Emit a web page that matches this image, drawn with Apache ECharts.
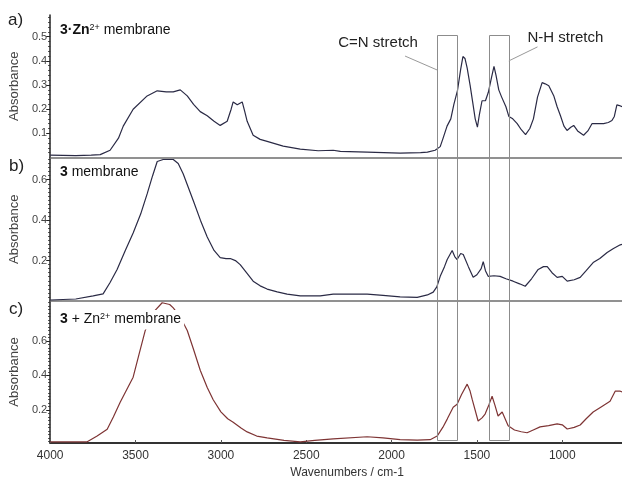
<!DOCTYPE html>
<html><head><meta charset="utf-8">
<script src="https://cdn.jsdelivr.net/npm/echarts@6/dist/echarts.min.js"></script>
<style>html,body{margin:0;padding:0;background:#fff}#c{width:622px;height:480px}</style>
</head><body><div id="c"></div>
<script>
// ---- Data ----
const wnA = [4000,3850,3760,3707,3649,3600,3572,3514,3432,3373,3320,3279,3238,3197,3160,3121,3080,3040,3004,2963,2940,2928,2904,2875,2860,2846,2811,2770,2729,2635,2535,2430,2342,2300,2143,1950,1830,1790,1745,1715,1698,1675,1653,1635,1614,1595,1582,1570,1557,1540,1525,1510,1497,1485,1470,1462,1450,1433,1415,1400,1388,1372,1355,1344,1330,1313,1290,1264,1240,1215,1190,1169,1145,1118,1100,1079,1050,1030,1011,990,972,950,933,910,875,850,826,790,758,730,709,695,680,665,650];
const absA = [0.01,0.008,0.01,0.012,0.03,0.08,0.13,0.20,0.255,0.276,0.272,0.272,0.28,0.255,0.22,0.19,0.173,0.15,0.133,0.15,0.2,0.23,0.218,0.23,0.19,0.15,0.092,0.075,0.067,0.047,0.035,0.028,0.03,0.025,0.022,0.018,0.02,0.022,0.03,0.045,0.08,0.13,0.16,0.22,0.277,0.366,0.418,0.41,0.37,0.3,0.23,0.16,0.126,0.18,0.235,0.239,0.235,0.27,0.33,0.377,0.34,0.28,0.25,0.256,0.21,0.17,0.16,0.14,0.115,0.095,0.12,0.16,0.25,0.31,0.305,0.297,0.256,0.21,0.174,0.13,0.112,0.125,0.133,0.11,0.092,0.11,0.14,0.14,0.14,0.145,0.153,0.17,0.218,0.215,0.21];

const wnB = [4000,3850,3748,3690,3650,3608,3560,3514,3470,3432,3400,3373,3338,3300,3279,3250,3221,3162,3120,3080,3040,3004,2970,2945,2915,2887,2850,2811,2770,2729,2670,2612,2535,2418,2342,2143,2050,1950,1850,1790,1756,1735,1715,1690,1674,1645,1630,1616,1595,1580,1550,1522,1500,1475,1463,1450,1434,1400,1364,1330,1288,1250,1217,1180,1141,1110,1088,1060,1030,1000,971,930,895,860,819,780,737,700,660,650];
const absB = [0.005,0.01,0.025,0.035,0.09,0.156,0.25,0.336,0.43,0.53,0.62,0.69,0.70,0.70,0.70,0.68,0.63,0.497,0.40,0.317,0.25,0.215,0.21,0.21,0.2,0.18,0.14,0.098,0.075,0.059,0.045,0.034,0.025,0.025,0.034,0.034,0.028,0.02,0.018,0.03,0.044,0.07,0.122,0.17,0.205,0.25,0.22,0.205,0.235,0.23,0.17,0.117,0.13,0.16,0.195,0.15,0.122,0.125,0.122,0.11,0.098,0.085,0.073,0.11,0.156,0.17,0.17,0.14,0.117,0.122,0.098,0.105,0.117,0.15,0.19,0.21,0.24,0.26,0.278,0.28];

const wnC = [4000,3900,3783,3725,3666,3630,3590,3514,3480,3443,3400,3344,3300,3279,3240,3197,3160,3121,3080,3045,3000,2960,2928,2880,2846,2790,2729,2630,2535,2450,2342,2143,2050,1950,1850,1774,1733,1700,1674,1639,1616,1590,1557,1540,1528,1493,1470,1452,1430,1411,1395,1376,1352,1317,1280,1240,1206,1170,1130,1080,1030,1000,971,930,895,860,819,770,720,690,660,650];
const absC = [0.017,0.017,0.017,0.05,0.09,0.16,0.245,0.39,0.52,0.66,0.76,0.82,0.81,0.79,0.74,0.66,0.55,0.43,0.33,0.26,0.19,0.15,0.13,0.095,0.074,0.05,0.04,0.025,0.017,0.025,0.034,0.046,0.04,0.029,0.027,0.029,0.05,0.1,0.148,0.217,0.234,0.29,0.35,0.31,0.263,0.137,0.155,0.177,0.23,0.28,0.23,0.166,0.189,0.109,0.085,0.075,0.069,0.085,0.103,0.11,0.12,0.115,0.091,0.1,0.114,0.15,0.189,0.22,0.251,0.309,0.309,0.305];

const xTicks = [4000,3500,3000,2500,2000,1500,1000];
const yTicksA = [0.1,0.2,0.3,0.4,0.5];
const yTicksB = [0.2,0.4,0.6];
const yTicksC = [0.2,0.4,0.6];

// highlighted bands (wavenumber ranges) and annotations
const cnBand = [1732, 1612];
const nhBand = [1431, 1313];
const bandTopA = 0.507;     // in panel a units
const bandBottomC = 0.027;  // in panel c units
const cnLabel = [2079, 0.474];
const nhLabel = [982, 0.497];
const cnLeader = [[1921, 0.42], [1732, 0.362]];
const nhLeader = [[1145, 0.458], [1313, 0.40]];

// ---- Chart ----
const F = "'Liberation Sans', Arial, sans-serif";
const chart = echarts.init(document.getElementById('c'), null, {renderer: 'canvas'});

function minorVals(lo, hi, step, majors) {
  const out = [];
  for (let v = step; v < hi - 1e-9; v += step) {
    const r = Math.round(v * 1000) / 1000;
    if (r > lo && !majors.some(m => Math.abs(m - r) < 1e-6)) out.push(r);
  }
  return out;
}

const ranges = [[0, 0.59], [0, 0.71], [0.01, 0.83]];
const majors = [yTicksA, yTicksB, yTicksC];
const grids = [
  {left: 48, right: 0, top: 15, height: 142.5},
  {left: 48, right: 0, top: 157.5, height: 143.5},
  {left: 48, right: 0, top: 301, height: 143}
];

const xAxes = grids.map((g, i) => ({
  gridIndex: i, type: 'value', min: 650, max: 4000, inverse: true,
  axisLine: {show: true, onZero: false, lineStyle: i < 2 ? {color: '#6e6e6e', width: 1.5} : {color: '#333', width: 2}},
  axisTick: i < 2 ? {show: false} : {show: true, inside: true, length: 3, customValues: xTicks, lineStyle: {color: '#555'}},
  axisLabel: i < 2 ? {show: false} : {show: true, customValues: xTicks, formatter: v => String(v), fontSize: 12, color: '#333', fontFamily: F, margin: 7},
  splitLine: {show: false},
  name: i < 2 ? '' : 'Wavenumbers / cm-1',
  nameLocation: 'middle', nameGap: 24,
  nameTextStyle: {fontSize: 12, color: '#333', fontFamily: F, padding: [0, 0, 0, 22]}
}));

const yAxes = [];
grids.forEach((g, i) => {
  yAxes.push({
    gridIndex: i, type: 'value', position: 'left', min: ranges[i][0], max: ranges[i][1],
    axisLine: {show: true, onZero: false, lineStyle: {color: '#222', width: 1.5}},
    axisTick: {show: true, length: 4, customValues: majors[i], lineStyle: {color: '#222'}},
    axisLabel: {show: true, customValues: majors[i], formatter: v => v.toFixed(1), fontSize: 11, color: '#444', fontFamily: F, margin: 3},
    splitLine: {show: false},
    name: 'Absorbance', nameLocation: 'middle', nameGap: 22,
    nameTextStyle: {fontSize: 13, color: '#444', fontFamily: F}
  });
  yAxes.push({
    gridIndex: i, type: 'value', position: 'left', min: ranges[i][0], max: ranges[i][1],
    axisLine: {show: false},
    axisTick: {show: true, length: 2, customValues: minorVals(ranges[i][0], ranges[i][1], 0.02, majors[i]), lineStyle: {color: '#333'}},
    axisLabel: {show: false}, splitLine: {show: false}
  });
});

const pair = (xs, ys) => xs.map((x, k) => [x, ys[k]]);
const series = [
  {data: pair(wnA, absA), color: '#2a2a45'},
  {data: pair(wnB, absB), color: '#2a2a45'},
  {data: pair(wnC, absC), color: '#7e3434'}
].map((s, i) => ({
  type: 'line', xAxisIndex: i, yAxisIndex: 2 * i, data: s.data, symbol: 'none',
  lineStyle: {color: s.color, width: 1.2}, itemStyle: {color: s.color}, z: 2
}));

const rich = {
  b: {fontWeight: 'bold', fontSize: 14, fontFamily: F, color: '#111'},
  n: {fontWeight: 'normal', fontSize: 14, fontFamily: F, color: '#111'},
  s: {fontWeight: 'normal', fontSize: 9, fontFamily: F, color: '#111', verticalAlign: 'top', padding: [0, 0, 6, 0]}
};
const titleTS = {fontWeight: 'normal', fontSize: 14, fontFamily: F, color: '#111', rich};
const panelLbl = {fontSize: 17, fontFamily: F, color: '#222', fontWeight: 'normal'};
const titles = [
  {text: 'a)', left: 8, top: 12, padding: 0, textStyle: panelLbl},
  {text: 'b)', left: 9, top: 158, padding: 0, textStyle: panelLbl},
  {text: 'c)', left: 9, top: 301, padding: 0, textStyle: panelLbl},
  {text: '{b|3·Zn}{s|2+}{n| membrane}', left: 58, top: 22, padding: [1, 2], textStyle: titleTS},
  {text: '{b|3}{n| membrane}', left: 58, top: 164, padding: [1, 2], textStyle: titleTS},
  {text: '{b|3}{n| + Zn}{s|2+}{n| membrane}', left: 57, top: 310, padding: [2, 3, 3, 3], backgroundColor: '#fff', textStyle: titleTS}
];

chart.setOption({
  animation: false,
  backgroundColor: '#fff',
  grid: grids,
  xAxis: xAxes,
  yAxis: yAxes,
  title: titles,
  series: series
});

// boxes and annotations positioned through the axes' own scales
const pA = v => chart.convertToPixel({xAxisIndex: 0, yAxisIndex: 0}, v);
const pC = v => chart.convertToPixel({xAxisIndex: 2, yAxisIndex: 4}, v);
const boxStyle = {fill: 'none', stroke: '#8c8c8c', lineWidth: 1};
function band(b) {
  const tl = pA([b[0], bandTopA]);
  const br = pC([b[1], bandBottomC]);
  return {type: 'rect', z: 10, shape: {x: Math.round(tl[0]) + 0.5, y: Math.round(tl[1]) + 0.5,
    width: Math.round(br[0] - tl[0]), height: Math.round(br[1] - tl[1])}, style: boxStyle};
}
function leader(l) {
  const a = pA(l[0]), b = pA(l[1]);
  return {type: 'line', z: 10, shape: {x1: a[0], y1: a[1], x2: b[0], y2: b[1]}, style: {stroke: '#999', lineWidth: 1}};
}
function label(t, pos) {
  const p = pA(pos);
  return {type: 'text', z: 11, x: p[0], y: p[1], style: {text: t, fill: '#222', font: "15px 'Liberation Sans', Arial, sans-serif", align: 'center', verticalAlign: 'middle'}};
}
chart.setOption({
  graphic: [band(cnBand), band(nhBand), leader(cnLeader), leader(nhLeader), label('C=N stretch', cnLabel), label('N-H stretch', nhLabel)]
});
</script>
</body></html>
